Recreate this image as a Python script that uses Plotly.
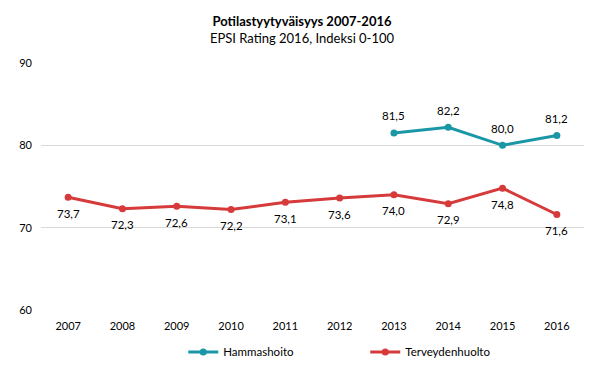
import plotly.graph_objects as go

years = ["2007", "2008", "2009", "2010", "2011", "2012", "2013", "2014", "2015", "2016"]
hammas_years = ["2013", "2014", "2015", "2016"]
hammas = [81.5, 82.2, 80.0, 81.2]
terveys = [73.7, 72.3, 72.6, 72.2, 73.1, 73.6, 74.0, 72.9, 74.8, 71.6]

teal = "#1A97A6"
red = "#D63A3A"
font = "Lato, Calibri, sans-serif"

def fmt(v):
    return f"{v:.1f}".replace(".", ",")

fig = go.Figure()
fig.add_trace(go.Scatter(
    x=hammas_years, y=hammas, name="Hammashoito", mode="lines+markers",
    line=dict(color=teal, width=3), marker=dict(size=7, color=teal),
))
fig.add_trace(go.Scatter(
    x=years, y=terveys, name="Terveydenhuolto", mode="lines+markers",
    line=dict(color=red, width=3), marker=dict(size=7, color=red),
))

# category axis: annotation positions given as category index
for x, y in zip(hammas_years, hammas):
    fig.add_annotation(x=years.index(x), y=y, text=fmt(y), showarrow=False, yshift=17,
                       font=dict(size=11.5, family=font, color="#000"))
for x, y in zip(years, terveys):
    fig.add_annotation(x=years.index(x), y=y, text=fmt(y), showarrow=False, yshift=-16,
                       font=dict(size=11.5, family=font, color="#000"))

fig.update_layout(
    width=604, height=372,
    margin=dict(l=41, r=20, t=63, b=62, autoexpand=False),
    paper_bgcolor="white", plot_bgcolor="white",
    font=dict(family=font, size=11, color="#000"),
    title=dict(
        text="<b>Potilastyytyväisyys 2007-2016</b><br><span style='font-size:13px'>EPSI Rating 2016, Indeksi 0-100</span>",
        x=0.5, xanchor="center", yref="container", y=0.93, yanchor="top",
        font=dict(size=13, family=font, color="#000"),
    ),
    xaxis=dict(
        type="category", categoryorder="array", categoryarray=years,
        showgrid=False, showline=False, zeroline=False, ticks="",
        range=[-0.5, 9.5], tickfont=dict(size=11, family=font),
        automargin=False, ticklabelstandoff=8,
    ),
    yaxis=dict(
        range=[60, 90], tickvals=[60, 70, 80, 90], showgrid=True,
        gridcolor="#D9D9D9", gridwidth=1, zeroline=False, showline=False,
        ticks="", tickfont=dict(size=11, family=font), ticklabelstandoff=8,
        automargin=False,
    ),
    legend=dict(
        orientation="h", x=0.262, xanchor="left", yref="container",
        y=0.054, yanchor="middle",
        font=dict(size=11.5, family=font), itemwidth=30,
        entrywidth=137, entrywidthmode="pixels",
    ),
    showlegend=True,
)

fig.write_html("out.html", config={"displayModeBar": False})

with open("out.html", encoding="utf-8") as f:
    html = f.read()
html = html.replace("<body>", "<body style=\"margin:0;overflow:hidden\">", 1)
with open("out.html", "w", encoding="utf-8") as f:
    f.write(html)
